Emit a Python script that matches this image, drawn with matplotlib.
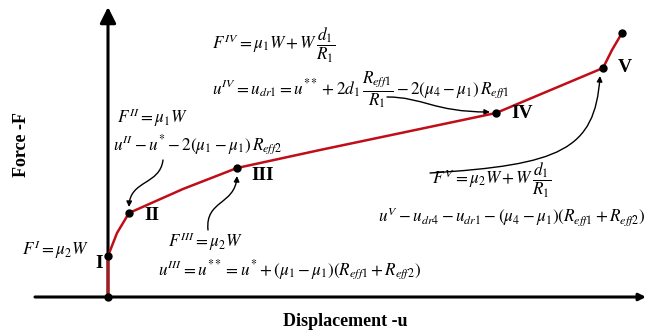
import matplotlib.pyplot as plt
from matplotlib.patches import FancyArrowPatch
from matplotlib.path import Path

plt.rcParams['mathtext.fontset'] = 'stix'
plt.rcParams['font.family'] = ['Liberation Serif', 'DejaVu Serif']

# Krivulja sila-pomak (shematski, proizvoljne jedinice)
disp_curve = [0, 0, 9, 21, 75, 129, 212, 312, 388, 495, 504, 514]
force_curve = [0, 41, 64, 84, 108, 129, 147, 168, 184, 229, 247, 264]

# Karakteristicne tacke
disp_pts = [0, 0, 21, 129, 388, 495, 514]
force_pts = [0, 41, 84, 129, 184, 229, 264]
pt_names = ['I', 'II', 'III', 'IV', 'V']
pt_label_xy = [(-9, 34), (44, 82), (155, 122), (414, 184), (517, 229)]

# Jednacine uz tacke
eqs = [
    (r'$F^{IV} = \mu_1 W + W\,\dfrac{d_1}{R_1}$', (104, 252)),
    (r'$u^{IV} = u_{dr1} = u^{**} + 2d_1\,\dfrac{R_{eff1}}{R_1} - 2(\mu_4 - \mu_1)\,R_{eff1}$', (104, 207)),
    (r'$F^{II} = \mu_1 W$', (9, 179)),
    (r'$u^{II} - u^{*} - 2(\mu_1 - \mu_1)\,R_{eff2}$', (5, 152)),
    (r'$F^{I} = \mu_2 W$', (-86, 47)),
    (r'$F^{III} = \mu_2 W$', (60, 55)),
    (r'$u^{III} = u^{**} = u^{*} + (\mu_1 - \mu_1)(R_{eff1} + R_{eff2})$', (50, 27)),
    (r'$F^{V} = \mu_2 W + W\,\dfrac{d_1}{R_1}$', (324, 117)),
    (r'$u^{V} - u_{dr4} - u_{dr1} - (\mu_4 - \mu_1)(R_{eff1} + R_{eff2})$', (270, 80)),
]

# Strelice (kubne krive: start, kontrola1, kontrola2, kraj)
arrows = [
    [(279, 200), (315, 200), (325, 185), (382, 185)],
    [(55, 137), (52, 112), (22, 117), (21, 90)],
    [(100, 67), (97, 97), (127, 92), (129, 121)],
    [(322, 124), (452, 132), (487, 147), (492, 221)],
]

fig = plt.figure(figsize=(6.47, 3.33), dpi=100)
ax = fig.add_axes([0, 0, 1, 1])
ax.set_xlim(-108, 539)
ax.set_ylim(-36, 297)
ax.axis('off')

# Ose
ax.annotate('', xy=(538, 0), xytext=(-73, 0),
            arrowprops=dict(arrowstyle='-|>', lw=2.2, color='k', mutation_scale=10, shrinkA=0, shrinkB=0))
ax.annotate('', xy=(0, 290), xytext=(0, 0),
            arrowprops=dict(arrowstyle='-|>', lw=2.2, color='k', mutation_scale=24, shrinkA=0, shrinkB=0))

ax.plot(disp_curve, force_curve, color='#c00d18', lw=1.8, zorder=3)
ax.plot(disp_pts, force_pts, 'o', color='k', ms=5, zorder=4)

for name, (x, y) in zip(pt_names, pt_label_xy):
    ax.text(x, y, name, fontsize=14, fontweight='bold', ha='center', va='center')

for txt, (x, y) in eqs:
    ax.text(x, y, txt, fontsize=12.3, ha='left', va='center')

for pts in arrows:
    path = Path(pts, [Path.MOVETO, Path.CURVE4, Path.CURVE4, Path.CURVE4])
    ax.add_patch(FancyArrowPatch(path=path, arrowstyle='-|>', mutation_scale=8, lw=1.0, color='k'))

ax.text(-86, 152, 'Force -F', fontsize=13, fontweight='bold', rotation=90, ha='center', va='center')
ax.text(237, -25, 'Displacement -u', fontsize=13, fontweight='bold', ha='center', va='center')

fig.savefig('out.png', dpi=100)
